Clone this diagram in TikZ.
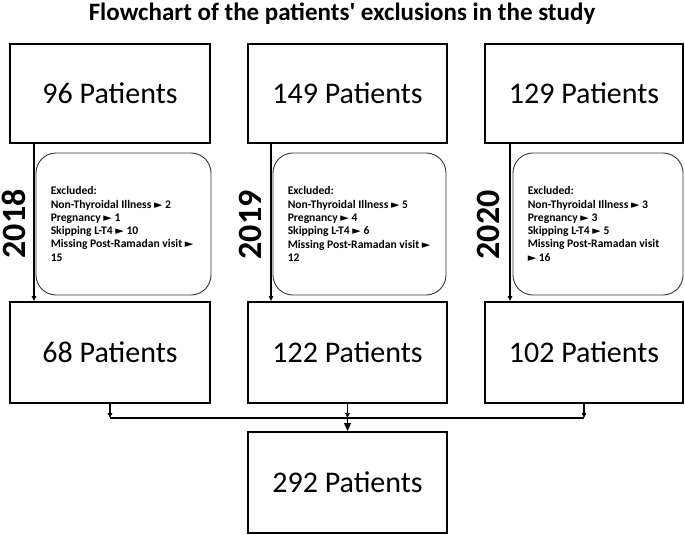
\documentclass[tikz,border=0pt]{standalone}
\usepackage{fontspec}
\setmainfont{Carlito}
\newfontfamily\symf{DejaVu Sans}
\usetikzlibrary{arrows.meta}
\newcommand{\tri}{{\symf\scalebox{0.95}{►}}}
\tikzset{
  bigbox/.style={draw=black,line width=2pt,minimum width=200pt,minimum height=100pt,inner sep=0pt,font=\fontsize{30}{34}\selectfont},
  exclbox/.style={draw=black!80,line width=0.9pt,rounded corners=20pt,minimum height=142pt,inner sep=0pt},
  excltext/.style={align=left,anchor=west,font=\bfseries\fontsize{11.6}{13.3}\selectfont,inner sep=0pt},
  year/.style={rotate=90,font=\bfseries\fontsize{34}{36}\selectfont,inner sep=0pt},
  arr/.style={line width=1.3pt,-{Triangle[length=5pt,width=4.5pt]}},
  bigarr/.style={line width=1.3pt,-{Triangle[length=8pt,width=7pt]}},
  conn/.style={line width=1.3pt}
}
\begin{document}
\begin{tikzpicture}[x=1pt,y=-1pt]
\useasboundingbox (0,0) rectangle (685,535);
\node[font=\bfseries\fontsize{25}{28}\selectfont] (title) at (342,14) {Flowchart of the patients\textquotesingle{} exclusions in the study};
% top boxes
\node[bigbox,minimum width=200pt,minimum height=99pt] (top1) at (110,93.5) {96 Patients};
\node[bigbox,minimum width=199pt,minimum height=99pt] (top2) at (347.5,93.5) {149 Patients};
\node[bigbox,minimum width=198pt,minimum height=99pt] (top3) at (584,93.5) {129 Patients};
% bottom boxes
\node[bigbox,minimum width=200pt,minimum height=101pt] (bot1) at (110,352.5) {68 Patients};
\node[bigbox,minimum width=199pt,minimum height=101pt] (bot2) at (347.5,352.5) {122 Patients};
\node[bigbox,minimum width=198pt,minimum height=101pt] (bot3) at (584,352.5) {102 Patients};
% final
\node[bigbox,minimum width=199pt,minimum height=101pt] (final) at (347.5,482.5) {292 Patients};
% exclusion boxes
\node[exclbox,minimum width=175pt] (ex1) at (123.5,224) {};
\node[exclbox,minimum width=173pt] (ex2) at (359.5,224) {};
\node[exclbox,minimum width=170pt] (ex3) at (598,224) {};
\node[excltext] (t1) at ([xshift=15pt]ex1.west) {Excluded:\\Non-Thyroidal Illness \tri{} 2\\Pregnancy \tri{} 1\\Skipping L-T4 \tri{} 10\\Missing Post-Ramadan visit \tri\\15};
\node[excltext] (t2) at ([xshift=15pt]ex2.west) {Excluded:\\Non-Thyroidal Illness \tri{} 5\\Pregnancy \tri{} 4\\Skipping L-T4 \tri{} 6\\Missing Post-Ramadan visit \tri\\12};
\node[excltext] (t3) at ([xshift=15pt]ex3.west) {Excluded:\\Non-Thyroidal Illness \tri{} 3\\Pregnancy \tri{} 3\\Skipping L-T4 \tri{} 5\\Missing Post-Ramadan visit\\\tri{} 16};
% years
\node[year] (y1) at (13.5,224) {2018};
\node[year] (y2) at (250,225) {2019};
\node[year] (y3) at (488,225) {2020};
% vertical arrows
\draw[arr] ([xshift=25pt]top1.south west) -- ([xshift=25pt]bot1.north west);
\draw[arr] ([xshift=24pt]top2.south west) -- ([xshift=24pt]bot2.north west);
\draw[arr] ([xshift=26pt]top3.south west) -- ([xshift=26pt]bot3.north west);
% merge
\coordinate (m1) at (110,418);
\coordinate (m2) at (347.5,418);
\coordinate (m3) at (584,418);
\draw[arr] (bot1.south) -- (m1);
\draw[arr] (bot2.south) -- (m2);
\draw[arr] (bot3.south) -- (m3);
\draw[conn] (m1) -- (m3);
\draw[bigarr] (m2) -- (final.north);
\end{tikzpicture}
\end{document}
